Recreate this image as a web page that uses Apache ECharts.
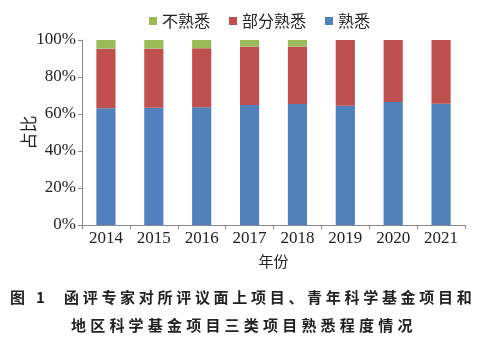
<!DOCTYPE html>
<html>
<head>
<meta charset="utf-8">
<script src="https://cdn.jsdelivr.net/npm/echarts@6/dist/echarts.min.js"></script>
<style>
  html, body { margin: 0; padding: 0; background: #fff; }
  #chart { width: 490px; height: 351px; }
</style>
</head>
<body>
<div id="chart"></div>
<script>
// 年份
const years = ['2014', '2015', '2016', '2017', '2018', '2019', '2020', '2021']
// 占比 (%)
const familiar = [63.1, 63.4, 63.6, 64.9, 65.4, 64.5, 66.5, 65.6]
const partlyFamiliar = [32.2, 31.9, 31.9, 31.5, 31.0, 35.5, 33.5, 34.4]
const unfamiliar = [4.7, 4.7, 4.5, 3.6, 3.6, 0, 0, 0]
const yTicks = [0, 20, 40, 60, 80, 100]

const captionLine1 = '函评专家对所评议面上项目、青年科学基金项目和'
const captionLine2 = '地区科学基金项目三类项目熟悉程度情况'

const serif = '"Liberation Serif", "Noto Sans CJK SC", serif'
const cjk = '"Noto Sans CJK SC", sans-serif'

const chart = echarts.init(document.getElementById('chart'))

const barStyle = (name, color, data) => ({
  name: name,
  type: 'bar',
  stack: 'total',
  barWidth: '40%',
  itemStyle: { color: color },
  data: data,
  animation: false
})

// caption is letter-spaced, so lay it out one char at a time
function spacedText(str, x0, pitch, y) {
  return str.split('').map((ch, i) => ({
    type: 'text',
    x: x0 + i * pitch,
    y: y,
    style: {
      text: ch,
      font: 'bold 15px "Noto Sans CJK SC"',
      fill: '#222',
      verticalAlign: 'middle'
    }
  }))
}

chart.setOption({
  grid: {
    left: 82,
    right: 25,
    top: 40,
    bottom: 126
  },
  legend: {
    data: ['不熟悉', '部分熟悉', '熟悉'],
    left: 144,
    top: 8,
    icon: 'rect',
    itemWidth: 8,
    itemHeight: 8,
    itemGap: 19,
    textStyle: { fontFamily: cjk, fontSize: 16, color: '#222' }
  },
  xAxis: {
    type: 'category',
    data: years,
    name: '年份',
    nameLocation: 'middle',
    nameGap: 29,
    nameMoveOverlap: false,
    nameTextStyle: { fontFamily: cjk, fontSize: 15, color: '#222' },
    axisLine: { lineStyle: { color: '#888' } },
    axisTick: { show: true, alignWithLabel: false, length: 4, lineStyle: { color: '#888' } },
    axisLabel: { fontFamily: serif, fontSize: 17, color: '#222', margin: 5 }
  },
  yAxis: {
    type: 'value',
    min: yTicks[0],
    max: yTicks[yTicks.length - 1],
    interval: 20,
    name: '占比',
    nameLocation: 'middle',
    nameGap: 45,
    nameMoveOverlap: false,
    nameTextStyle: { fontFamily: cjk, fontSize: 17, color: '#222' },
    axisLine: { show: true, lineStyle: { color: '#888' } },
    axisTick: { show: true, length: 4, lineStyle: { color: '#888' } },
    splitLine: { show: false },
    axisLabel: {
      fontFamily: serif, fontSize: 17, color: '#222', margin: 6,
      formatter: v => v + '%'
    }
  },
  graphic: [
    ...spacedText('图', 10, 0, 297),
    ...spacedText('1', 36, 0, 297),
    ...spacedText(captionLine1, 64, 18.7, 297),
    ...spacedText(captionLine2, 71, 19.2, 325)
  ],
  series: [
    barStyle('熟悉', '#4F81BD', familiar),
    barStyle('部分熟悉', '#C0504D', partlyFamiliar),
    barStyle('不熟悉', '#9BBB59', unfamiliar)
  ]
})
</script>
</body>
</html>
